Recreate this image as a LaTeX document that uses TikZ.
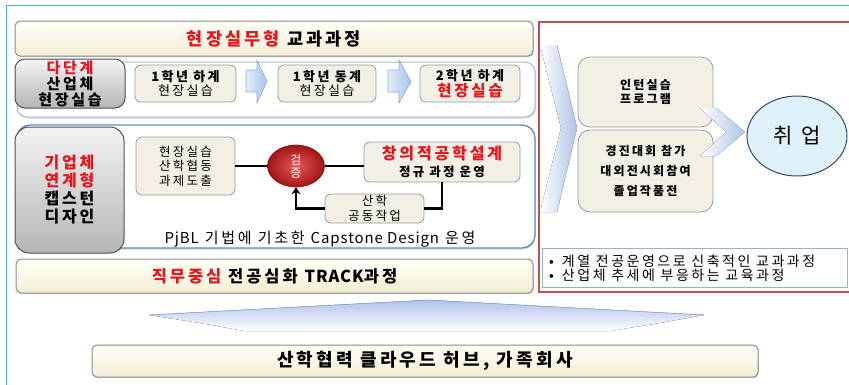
\documentclass[tikz,border=0pt]{standalone}
\usepackage{fontspec}
\setmainfont{Noto Sans CJK KR}[LetterSpace=18]
\newcommand\nols[1]{{\addfontfeature{LetterSpace=6}#1}}
\usetikzlibrary{shadows,arrows.meta,shapes.geometric}
\definecolor{cTeal}{HTML}{4BACC6}
\definecolor{cRedBox}{HTML}{C0504D}
\definecolor{cRedT}{HTML}{E8141B}
\definecolor{cBanT}{HTML}{FFFFF7}
\definecolor{cBanB}{HTML}{F3EED6}
\definecolor{cBanD}{HTML}{8C8C8C}
\definecolor{cGrayT}{HTML}{F4F4F4}
\definecolor{cGrayB}{HTML}{B5B5B5}
\definecolor{cGrayD}{HTML}{4F4F4F}
\definecolor{cRow1}{HTML}{A7B9D3}
\definecolor{cRow2}{HTML}{5D8CC8}
\definecolor{cBeige}{HTML}{F2EFE5}
\definecolor{cBoxD}{HTML}{9A9A9A}
\definecolor{cArrL}{HTML}{E3EDF9}
\definecolor{cArrR}{HTML}{A6C4EC}
\definecolor{cArrD}{HTML}{8CADDA}
\definecolor{cVerI}{HTML}{E85A5A}
\definecolor{cVerO}{HTML}{A31414}
\definecolor{cJob}{HTML}{E0F1F9}
\definecolor{cJobD}{HTML}{2C4675}
\definecolor{cChev}{HTML}{AFC3E6}
\definecolor{cBul}{HTML}{94B2C9}
\tikzset{
  fs/.style 2 args={font=\fontsize{#1}{#2}\selectfont},
  banner/.style={draw=cBanD, line width=1pt, rounded corners=5pt, top color=cBanT, bottom color=cBanB,
    inner sep=0pt, drop shadow={shadow xshift=0.8pt, shadow yshift=-1.2pt, opacity=0.35}},
  rowbox/.style={fill=white, rounded corners=10pt, inner sep=0pt,
    drop shadow={shadow xshift=0.8pt, shadow yshift=-1.5pt, opacity=0.3}},
  graybox/.style={draw=cGrayD, line width=1pt, top color=cGrayT, bottom color=cGrayB, rounded corners=10pt,
    inner sep=0pt, align=center},
  smallbox/.style={draw=cBoxD, line width=0.8pt, fill=cBeige, rounded corners=6pt, inner sep=0pt, align=center},
  blockarrow/.style={draw=cArrD, line width=0.6pt, left color=cArrL, right color=cArrR},
  conn/.style={line width=2.2pt, black},
}
\begin{document}
\begin{tikzpicture}[x=1pt,y=-1pt]
\useasboundingbox (0,0) rectangle (849,384);
\clip (0,0) rectangle (849,384);
\fill[white] (0,0) rectangle (849,384);
% outer frames
\draw[cTeal, line width=0.9pt] (6,400) -- (6,5) -- (860,5);
\draw[cRedBox, line width=1.8pt] (539,22) rectangle (870,292);

% top banner
\node[banner, minimum width=518pt, minimum height=35pt] (top) at (274,38.5)
  {\fontsize{17.5}{19}\selectfont\bfseries{\color{cRedT}현장실무형} 교과과정};

% row 1
\node[rowbox, draw=cRow1, line width=1pt, minimum width=518pt, minimum height=55pt] (row1) at (276,89.5) {};
\node[graybox, minimum width=110pt, minimum height=49pt, fs={15}{16}] (g1) at (70,83.5)
  {\bfseries{\color{cRedT}다단계}\\\bfseries 산업체\\\bfseries 현장실습};
\node[smallbox, minimum width=101pt, minimum height=37pt, fs={13}{14.5}] (b11) at (185.5,83.5)
  {\bfseries 1학년 하계\\현장실습};
\node[smallbox, minimum width=98pt, minimum height=37pt, fs={13}{14.5}] (b12) at (327,83.5)
  {\bfseries 1학년 동계\\현장실습};
\node[smallbox, minimum width=100pt, minimum height=37pt, fs={13}{15.5}] (b13) at (470,83.5)
  {\bfseries 2학년 하계\\{\color{cRedT}\bfseries\fontsize{15.5}{16}\selectfont 현장실습}};
\draw[blockarrow] (246,70) -- (257,70) -- (257,60) -- (267,81.5) -- (257,103) -- (257,92) -- (246,92) -- cycle;
\draw[blockarrow] (388,70) -- (399,70) -- (399,60) -- (411,81.5) -- (399,103) -- (399,92) -- (388,92) -- cycle;

% row 2
\node[rowbox, draw=cRow2, line width=1.3pt, rounded corners=13pt, minimum width=518pt, minimum height=123pt] (row2) at (276,186.5) {};
\node[graybox, rounded corners=14pt, minimum width=109pt, minimum height=126pt, fs={16}{18}] (g2) at (69.5,190)
  {\bfseries{\color{cRedT}기업체}\\\bfseries{\color{cRedT}연계형}\\\bfseries 캡스턴\\\bfseries 디자인};
\node[smallbox, minimum width=99pt, minimum height=58pt, fs={12.5}{14.5}] (b21) at (185.5,166)
  {현장실습\\산학협동\\과제도출};
\node[ellipse, draw=cVerO!80!black, line width=0.6pt, inner color=cVerI, outer color=cVerO,
  minimum width=57pt, minimum height=42pt, inner sep=0pt, align=center, text=white, fs={12}{13}] (verify) at (296,166)
  {검\\증};
\node[smallbox, minimum width=156pt, minimum height=40pt, fs={12.5}{17}] (cre) at (442,162)
  {{\color{cRedT}\bfseries\fontsize{16}{18}\selectfont 창의적공학설계}\\\bfseries 정규 과정 운영};
\node[smallbox, minimum width=99pt, minimum height=29pt, fs={12.5}{14.5}] (sanhak) at (374.5,208.5)
  {산학\\공동작업};
\node[fs={15}{15}, inner sep=0pt] (cap) at (320,239.5) {\nols{PjBL} 기법에 기초한 \nols{Capstone Design} 운영};
\draw[conn] (b21.east) -- (verify.west);
\draw[conn] (verify.east) -- (verify.east -| cre.west);
\draw[conn] (cre.south) |- (sanhak.east);
\draw[conn, -{Stealth[length=7pt, width=9pt]}] (sanhak.west) -| (verify.south);

% bottom-left banner
\node[banner, minimum width=517pt, minimum height=34pt] (track) at (274.5,276)
  {\fontsize{16.5}{18}\selectfont\bfseries{\color{cRedT}직무중심} 전공심화 \nols{TRACK}과정};

% right panel
\fill[left color=white, right color=cChev] (540,45) -- (557,45) -- (577,128) -- (557,212) -- (540,212) -- (561,128) -- cycle;
\draw[cArrD!80, line width=0.6pt] (557,45) -- (577,128) -- (557,212);
\node[smallbox, rounded corners=12pt, minimum width=135pt, minimum height=70pt, fs={12}{14.5}] (intern) at (645.5,92)
  {\bfseries 인턴실습\\\bfseries 프로그램};
\node[smallbox, rounded corners=12pt, minimum width=135pt, minimum height=82pt, fs={12}{20}] (contest) at (645.5,171)
  {\bfseries 경진대회 참가\\\bfseries 대외전시회참여\\\bfseries 졸업작품전};
\fill[left color=white, right color=cChev] (700,108) -- (716,108) -- (745,132) -- (716,156) -- (700,156) -- (726,132) -- cycle;
\draw[cArrD!70, line width=0.5pt] (716,108) -- (745,132) -- (716,156);
\node[ellipse, draw=cJobD, line width=1pt, fill=cJob, minimum width=100pt, minimum height=80pt, inner sep=0pt,
  fs={21}{24}] (job) at (797,136) {취 업};
\node[draw=cBul, line width=0.8pt, fill=white, minimum width=305pt, minimum height=39pt, inner sep=0pt] (bul) at (694.5,267.5) {};
\node[anchor=west, align=left, inner sep=0pt, fs={14}{14}] (bultext) at (549,268)
  {•\hspace{8pt}계열 전공운영으로 신축적인 교과과정\\•\hspace{8pt}산업체 추세에 부응하는 교육과정};

% bottom up arrow and base box
\fill[top color=cChev!90!blue!80, bottom color=white] (149,315) -- (428,300) -- (704,315) -- (660,323) -- (610,331) -- (245,331) -- (200,323) -- cycle;
\draw[cArrD, line width=0.7pt] (149,315) -- (428,300) -- (704,315);
\node[banner, minimum width=666pt, minimum height=32pt] (hub) at (425,361)
  {\fontsize{18}{19}\selectfont\bfseries 산학협력 클라우드 허브, 가족회사};
\end{tikzpicture}
\end{document}
